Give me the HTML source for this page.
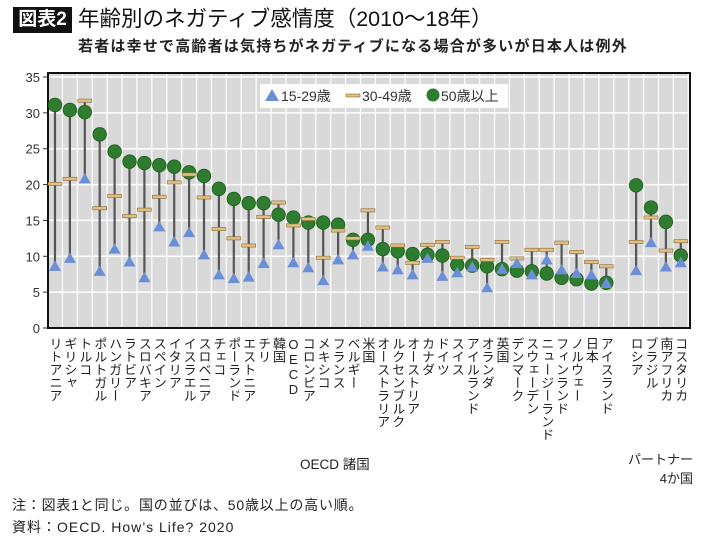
<!DOCTYPE html>
<html><head><meta charset="utf-8">
<style>
body{margin:0;width:710px;height:539px;background:#fff;font-family:"Liberation Sans","Noto Sans CJK JP",sans-serif;overflow:hidden;position:relative}
.abs{position:absolute}
</style></head><body>
<div class="abs" style="left:13px;top:7px;width:59px;height:26px;background:#111;color:#fff;font-size:19px;font-weight:bold;line-height:26px;text-align:center">図表2</div>
<div class="abs" style="left:78px;top:5px;font-size:21.5px;line-height:28px;color:#111;white-space:nowrap">年齢別のネガティブ感情度（2010〜18年）</div>
<div class="abs" style="left:78px;top:38px;font-size:15px;letter-spacing:1.2px;font-weight:bold;line-height:18px;color:#222;white-space:nowrap">若者は幸せで高齢者は気持ちがネガティブになる場合が多いが日本人は例外</div>
<svg class="abs" style="left:0;top:0" width="710" height="539" id="chart"></svg>
<div class="abs" style="left:300px;top:453px;font-size:13.5px;color:#222">OECD 諸国</div>
<div class="abs" style="left:628px;top:450px;font-size:13px;color:#222;text-align:right;line-height:19px">パートナー<br>&nbsp;&nbsp;&nbsp;4か国</div>
<div class="abs" style="left:12px;top:495px;font-size:14px;letter-spacing:0.8px;color:#222">注：図表1と同じ。国の並びは、50歳以上の高い順。</div>
<div class="abs" style="left:12px;top:517px;font-size:14px;letter-spacing:1px;color:#222">資料：OECD. How’s Life? 2020</div>
<script>
const categories=["リトアニア","ギリシャ","トルコ","ポルトガル","ハンガリー","ラトビア","スロバキア","スペイン","イタリア","イスラエル","スロベニア","チェコ","ポーランド","エストニア","チリ","韓国","OECD","コロンビア","メキシコ","フランス","ベルギー","米国","オーストラリア","ルクセンブルク","オーストリア","カナダ","ドイツ","スイス","アイルランド","オランダ","英国","デンマーク","スウェーデン","ニュージーランド","フィンランド","ノルウェー","日本","アイスランド","","ロシア","ブラジル","南アフリカ","コスタリカ"];
const age50=[31.1,30.4,30.1,27.0,24.6,23.2,23.0,22.7,22.5,21.7,21.2,19.4,18.0,17.4,17.4,15.8,15.4,14.7,14.7,14.4,12.3,12.3,11.0,10.7,10.3,10.2,10.1,8.8,8.7,8.6,8.2,8.0,7.9,7.6,7.0,6.8,6.2,6.3,null,19.9,16.8,14.8,10.1];
const age30=[20.1,20.8,31.7,16.7,18.4,15.6,16.5,18.3,20.3,21.4,18.2,13.8,12.5,11.5,15.5,17.5,14.3,15.2,9.8,13.6,12.5,16.4,14.0,11.5,9.1,11.6,12.0,9.8,11.3,9.5,12.0,9.7,10.9,10.9,11.9,10.6,9.2,8.6,null,12.0,15.4,10.8,12.1];
const age15=[8.6,9.7,20.8,7.9,11.0,9.2,7.0,14.1,12.0,13.3,10.2,7.4,6.9,7.1,9.0,11.6,9.1,8.4,6.6,9.5,10.2,11.4,8.5,8.1,7.4,9.7,7.2,7.7,8.5,5.6,8.2,9.0,7.4,9.5,8.1,7.6,7.4,6.2,null,8.0,11.9,8.5,9.1];
const yTicks=[0,5,10,15,20,25,30,35];

const NS="http://www.w3.org/2000/svg";
const svg=document.getElementById('chart');
const L=48,R=690,T=77,B=328,yMax=35;
const x0=55,step=14.9;
const xs=i=>x0+i*step;
const ys=v=>B-(v/yMax)*(B-T);
function mk(tag,attrs,parent){const e=document.createElementNS(NS,tag);for(const k in attrs)e.setAttribute(k,attrs[k]);(parent||svg).appendChild(e);return e;}

const bg=mk('rect',{x:L,y:T-4,width:R-L,height:B-T+4,fill:'#d9d9d9'});


for(let i=0;i<categories.length;i++){
  const g=mk('line',{x1:xs(i)+7.45,x2:xs(i)+7.45,y1:T-4,y2:B,stroke:'#fff','stroke-width':1.2});
  
  
}
yTicks.forEach(t=>{
  const y=ys(t);
  const gl=mk('line',{x1:L,x2:R,y1:y,y2:y,stroke:'#fff','stroke-width':1.5});
  
  
  const tk=mk('line',{x1:L-5,x2:L,y1:y,y2:y,stroke:'#333','stroke-width':1});
  
  
  const tx=mk('text',{x:L-8,y:y+5,'text-anchor':'end','font-size':13,fill:'#333'});
  tx.textContent=t;
  
  
});
const fr=mk('rect',{x:L,y:T-4,width:R-L,height:B-T+4,fill:'none',stroke:'#111','stroke-width':2});



categories.forEach((c,i)=>{
  if(age50[i]==null)return;
  const x=xs(i);
  const vals=[age50[i],age30[i],age15[i]];
  const st=mk('line',{x1:x,x2:x,y1:ys(Math.max(...vals)),y2:ys(Math.min(...vals)),stroke:'#555','stroke-width':2.2});
  
  
  const ci=mk('circle',{cx:x,cy:ys(age50[i]),r:6.8,fill:'#2e7d2e',stroke:'#1e5a1e','stroke-width':0.8});
  
  
  const b=mk('rect',{x:x-7,y:ys(age30[i])-1.6,width:14,height:3.2,fill:'#e0c080',stroke:'#8a6a3a','stroke-width':0.6});
  
  
  const ty=ys(age15[i]);
  const tr=mk('polygon',{points:`${x},${ty-6} ${x-6},${ty+4.5} ${x+6},${ty+4.5}`,fill:'#6b8fd6'});
  
  
  const lab=mk('text',{x:x,y:337,'font-size':13,fill:'#222',style:'writing-mode:vertical-rl;text-orientation:upright'});
  lab.textContent=c;
  
  
});

const lg=mk('g',{});


mk('rect',{x:260,y:84,width:248,height:24,fill:'#fff'},lg);
const e1=mk('g',{},lg);


mk('polygon',{points:'272,89 265,101 279,101',fill:'#6b8fd6'},e1);
const t1=mk('text',{x:281,y:101,'font-size':14,fill:'#333'},e1);t1.textContent='15-29歳';
const e2=mk('g',{},lg);


mk('rect',{x:346,y:94,width:14,height:3,fill:'#e0c080',stroke:'#8a6a3a','stroke-width':0.6},e2);
const t2=mk('text',{x:362,y:101,'font-size':14,fill:'#333'},e2);t2.textContent='30-49歳';
const e3=mk('g',{},lg);


mk('circle',{cx:433,cy:95,r:6.5,fill:'#2e7d2e'},e3);
const t3=mk('text',{x:441,y:101,'font-size':14,fill:'#333'},e3);t3.textContent='50歳以上';
</script>
</body></html>
